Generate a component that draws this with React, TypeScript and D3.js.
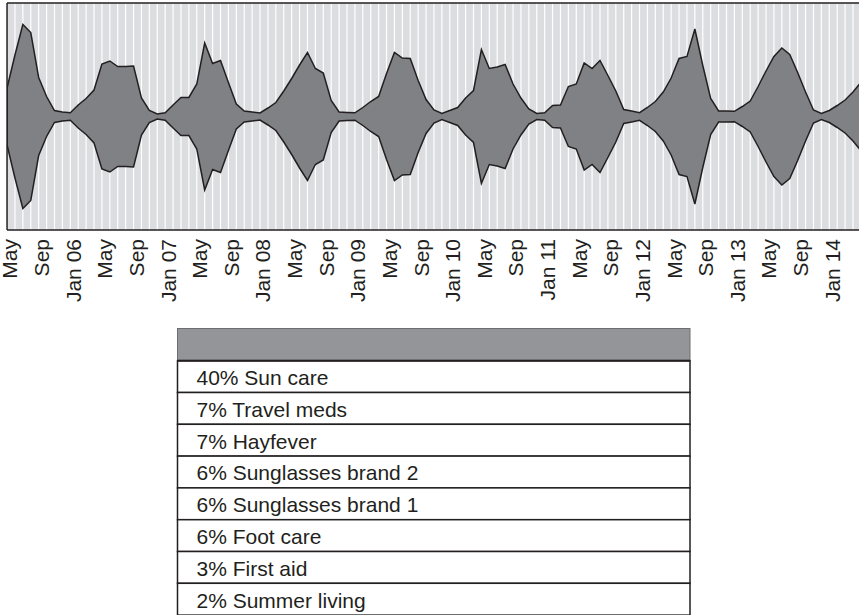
import React from 'react';
import * as d3 from 'd3';

// Monthly sales index, starting May 2005 (one value per month)
const salesIndex: number[] = [
  57, 123, 184, 168, 78, 40, 12, 9, 7.5, 23,
  36, 53, 105, 111, 100, 100, 101, 37, 12, 5,
  7.4, 23, 38, 38, 65, 147, 106, 112, 68, 25,
  11, 9, 7, 17, 28, 51, 76, 103, 128, 96,
  87, 32, 9, 8, 7.3, 18, 30, 40, 86, 128,
  117, 116, 72, 34, 13, 6, 12, 18, 37, 52,
  134, 96, 99, 104, 65, 37, 15, 6, 7.4, 22,
  23, 60, 65, 107, 96, 112, 82, 51, 14, 11,
  7.7, 18, 30, 49, 77, 116, 120, 175, 102, 36,
  11, 11, 10.4, 20, 31, 60, 91, 120, 137, 124,
  88, 49, 13, 6, 12, 22, 33, 49, 68,
];

// Tick labels every 4 months starting at May 2005
const tickLabels: string[] = [
  'May', 'Sep', 'Jan 06', 'May', 'Sep', 'Jan 07', 'May', 'Sep', 'Jan 08',
  'May', 'Sep', 'Jan 09', 'May', 'Sep', 'Jan 10', 'May', 'Sep', 'Jan 11',
  'May', 'Sep', 'Jan 12', 'May', 'Sep', 'Jan 13', 'May', 'Sep', 'Jan 14',
];
const tickStep = 4;

const shares: number[] = [40, 7, 7, 6, 6, 6, 3, 2];
const categories: string[] = [
  'Sun care', 'Travel meds', 'Hayfever', 'Sunglasses brand 2',
  'Sunglasses brand 1', 'Foot care', 'First aid', 'Summer living',
];

const FONT = "'Liberation Sans', Arial, Helvetica, sans-serif";
const INK = '#231f20';

export default function App() {
  const W = 859;
  const H = 615;
  const plotLeft = 7.05;
  const monthW = 7.906;
  const plotTop = 3;
  const plotBottom = 230;
  const plotRight = 880;

  const n = salesIndex.length;
  const x = d3.scaleLinear().domain([0, n - 1]).range([plotLeft, plotLeft + monthW * (n - 1)]);
  const y = d3.scaleLinear().domain([-113.5, 113.5]).range([plotBottom, plotTop]);

  const stack = d3.stack<number>()
    .keys(['sales'])
    .value((d) => d)
    .offset(d3.stackOffsetSilhouette);
  const series = stack(salesIndex as any)[0];

  const area = d3.area<any>()
    .x((_, i) => x(i))
    .y0((d) => y(d[0]))
    .y1((d) => y(d[1]))
    .curve(d3.curveLinear);

  const gridIdx = d3.range(0, n + 3);

  // table
  const tLeft = 177.5;
  const tRight = 690;
  const headerTop = 328.5;
  const headerBottom = 360.7;
  const rowH = 31.8;

  return (
    <svg
      width={W}
      height={H}
      style={{ position: 'absolute', left: 0, top: 0, background: '#fff' }}
    >
      <defs>
        <clipPath id="plotclip">
          <rect x={plotLeft} y={plotTop} width={plotRight - plotLeft} height={plotBottom - plotTop} />
        </clipPath>
      </defs>
      <rect x={plotLeft} y={plotTop} width={plotRight - plotLeft} height={plotBottom - plotTop} fill="#dcdde0" />
      <g clipPath="url(#plotclip)">
        {gridIdx.map((i) => (
          <line key={i} x1={x(i)} x2={x(i)} y1={plotTop} y2={plotBottom} stroke="#ffffff" strokeWidth={1.2} />
        ))}
        <path d={area(series as any) || ''} fill="#808184" stroke={INK} strokeWidth={1.5} strokeLinejoin="miter" />
      </g>
      <line x1={plotLeft} x2={plotRight} y1={plotTop} y2={plotTop} stroke={INK} strokeWidth={1.5} />
      <line x1={plotLeft} x2={plotRight} y1={plotBottom} y2={plotBottom} stroke={INK} strokeWidth={1.5} />
      <line x1={plotLeft} x2={plotLeft} y1={plotTop} y2={plotBottom} stroke={INK} strokeWidth={1.5} />

      {tickLabels.map((lab, j) => (
        <text
          key={j}
          transform={`translate(${x(j * tickStep) + 3},239) rotate(-90)`}
          textAnchor="end"
          dy="0.35em"
          fontSize={21}
          fontFamily={FONT}
          fill={INK}
        >
          {lab}
        </text>
      ))}

      {/* table */}
      <rect x={tLeft} y={headerTop} width={tRight - tLeft} height={headerBottom - headerTop} fill="#939598" stroke="#6d6e71" strokeWidth={1} />
      {categories.map((c, i) => {
        const top = headerBottom + i * rowH;
        return (
          <g key={c}>
            <rect x={tLeft} y={top} width={tRight - tLeft} height={rowH} fill="#ffffff" stroke={INK} strokeWidth={1.5} />
            <text x={196.5} y={top + 24.3} fontSize={21} fontFamily={FONT} fill={INK}>
              {`${shares[i]}% ${c}`}
            </text>
          </g>
        );
      })}
      <line x1={tLeft} x2={tRight} y1={headerBottom} y2={headerBottom} stroke={INK} strokeWidth={2} />
    </svg>
  );
}
